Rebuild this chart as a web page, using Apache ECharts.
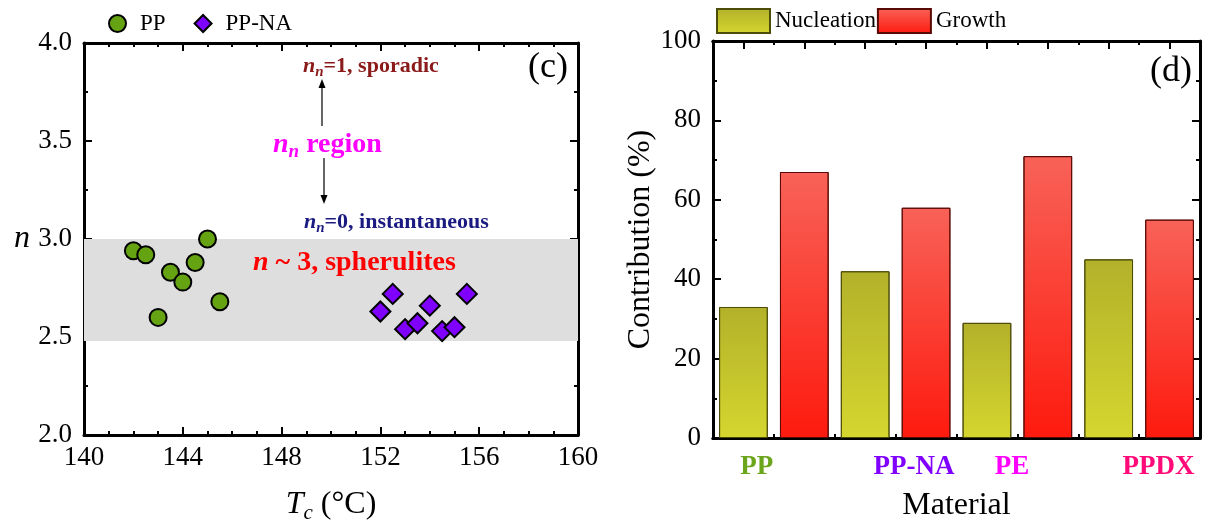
<!DOCTYPE html>
<html>
<head>
<meta charset="utf-8">
<script src="https://cdn.jsdelivr.net/npm/echarts@6/dist/echarts.min.js"></script>
<style>
  html, body { margin: 0; padding: 0; background: #fff; }
  #chart { width: 1206px; height: 529px; }
</style>
</head>
<body>
<div id="chart"></div>
<script>
// ---- (c) Avrami exponent n versus crystallization temperature ----
const tcPP   = [142, 142.5, 143, 143.5, 144, 144.5, 145, 145.5];
const nPP    = [2.94, 2.92, 2.60, 2.83, 2.78, 2.88, 3.00, 2.68];
const tcPPNA = [152, 152.5, 153, 153.5, 154, 154.5, 155, 155.5];
const nPPNA  = [2.63, 2.72, 2.54, 2.57, 2.66, 2.53, 2.55, 2.72];
const spheruliteBand = [2.48, 3.0];   // n range shaded as the spherulite region

// ---- (d) nucleation / growth contribution per material ----
const materials  = ['PP', 'PP-NA', 'PE', 'PPDX'];
const nucleation = [33, 42, 29, 45];
const growth     = [67, 58, 71, 55];
const materialColors = ['#6aa51c', '#8000ff', '#ff00ff', '#ff0a78'];
// where each material name sits along the bar axis (in bar-slot units)
const materialLabelSlots = [0.22, 2.8, 4.41, 6.82];

const SERIF = '"Liberation Serif", "Times New Roman", serif';

// each material occupies two bar slots: nucleation then growth
const slots = [];
materials.forEach(m => { slots.push(m + ' N'); slots.push(m + ' G'); });
const nucData = slots.map((_, i) => i % 2 === 0 ? nucleation[i / 2] : '-');
const groData = slots.map((_, i) => i % 2 === 1 ? growth[(i - 1) / 2] : '-');

// fresh style objects for every axis
const axisLine = () => ({ show: true, onZero: false, lineStyle: { color: '#000', width: 3 } });
const majorTick = (extra) => Object.assign({ show: true, inside: true, length: 8,
  lineStyle: { color: '#000', width: 2 } }, extra || {});
const minorTick = (n) => ({ show: true, splitNumber: n, length: 4, lineStyle: { color: '#000', width: 2 } });
const tickFont = (extra) => Object.assign({ show: true, color: '#000', fontFamily: SERIF, fontSize: 27 }, extra || {});

const chart = echarts.init(document.getElementById('chart'), null, { renderer: 'canvas' });

const subRich = (color, size, subSize, weight) => ({
  i: { fontFamily: SERIF, fontStyle: 'italic', fontWeight: weight, fontSize: size, color: color, fill: color },
  s: { fontFamily: SERIF, fontStyle: 'italic', fontWeight: weight, fontSize: subSize, color: color, fill: color,
       padding: [Math.round(size * 0.55), 0, 0, 0] },
  t: { fontFamily: SERIF, fontWeight: weight, fontSize: size, color: color, fill: color }
});

const valueAxis = (cfg) => Object.assign({
  type: 'value', axisLine: axisLine(), splitLine: { show: false }, axisLabel: { show: false }
}, cfg);
const catAxis = (cfg) => Object.assign({
  type: 'category', data: slots, axisLine: axisLine(), splitLine: { show: false }, axisLabel: { show: false }
}, cfg);

const option = {
  animation: false,
  backgroundColor: '#fff',
  grid: [
    { left: 84, top: 43, width: 494, height: 395 },
    { left: 713, top: 41, width: 487, height: 397 }
  ],
  legend: [
    {
      data: ['PP', 'PP-NA'], left: 103, top: 7,
      itemWidth: 17, itemHeight: 17, itemGap: 28,
      textStyle: { color: '#000', fontFamily: SERIF, fontSize: 23, padding: [0, 0, 0, 9] }
    },
    {
      data: [{ name: 'Nucleation', icon: 'rect' }, { name: 'Growth', icon: 'rect' }],
      left: 711, top: 3,
      itemWidth: 53, itemHeight: 24, itemGap: 1,
      textStyle: { color: '#000', fontFamily: SERIF, fontSize: 23 }
    }
  ],
  xAxis: [
    valueAxis({
      gridIndex: 0, min: 140, max: 160, interval: 4, position: 'bottom',
      axisTick: majorTick(), minorTick: minorTick(4),
      axisLabel: tickFont({ margin: 9 }),
      name: '{i|T}{s|c}{t| (°C)}', nameLocation: 'middle', nameGap: 50,
      nameTextStyle: { rich: subRich('#000', 32, 21, 'normal') }
    }),
    valueAxis({
      gridIndex: 0, min: 140, max: 160, interval: 4, position: 'top',
      axisTick: majorTick(), minorTick: minorTick(4)
    }),
    catAxis({
      gridIndex: 1, position: 'bottom',
      axisTick: majorTick({ alignWithLabel: true, interval: 0 }),
      name: 'Material', nameLocation: 'middle', nameGap: 52,
      nameTextStyle: { color: '#000', fontFamily: SERIF, fontSize: 32 }
    }),
    catAxis({
      gridIndex: 1, position: 'bottom',
      axisTick: majorTick({ interval: 0, length: 4 })
    }),
    catAxis({
      gridIndex: 1, position: 'top',
      axisTick: majorTick({ alignWithLabel: true, interval: 0 })
    }),
    catAxis({
      gridIndex: 1, position: 'top',
      axisTick: majorTick({ interval: 0, length: 4 })
    })
  ],
  yAxis: [
    valueAxis({
      gridIndex: 0, min: 2, max: 4, interval: 0.5, position: 'left',
      axisTick: majorTick(), minorTick: minorTick(2),
      axisLabel: tickFont({ margin: 12, formatter: v => v.toFixed(1) }),
      name: 'n', nameLocation: 'middle', nameGap: 54, nameRotate: 0,
      nameTextStyle: { color: '#000', fontFamily: SERIF, fontSize: 32, fontStyle: 'italic' }
    }),
    valueAxis({
      gridIndex: 0, min: 2, max: 4, interval: 0.5, position: 'right',
      axisTick: majorTick(), minorTick: minorTick(2)
    }),
    valueAxis({
      gridIndex: 1, min: 0, max: 100, interval: 20, position: 'left',
      axisTick: majorTick(), minorTick: minorTick(2),
      axisLabel: tickFont({ margin: 12 }),
      name: 'Contribution (%)', nameLocation: 'middle', nameGap: 52,
      nameTextStyle: { color: '#000', fontFamily: SERIF, fontSize: 32 }
    }),
    valueAxis({
      gridIndex: 1, min: 0, max: 100, interval: 20, position: 'right',
      axisTick: majorTick(), minorTick: minorTick(2)
    })
  ],
  series: [
    {
      name: 'PP', type: 'scatter', xAxisIndex: 0, yAxisIndex: 0,
      data: tcPP.map((t, i) => [t, nPP[i]]),
      symbol: 'circle', symbolSize: 17,
      itemStyle: { color: '#65a313', borderColor: '#000', borderWidth: 2, opacity: 1 },
      z: 5,
      markArea: {
        silent: true,
        itemStyle: { color: '#dedede' },
        data: [[{ xAxis: 140, yAxis: spheruliteBand[0] }, { xAxis: 160, yAxis: spheruliteBand[1] }]]
      }
    },
    {
      name: 'PP-NA', type: 'scatter', xAxisIndex: 0, yAxisIndex: 0,
      data: tcPPNA.map((t, i) => [t, nPPNA[i]]),
      symbol: 'diamond', symbolSize: 20,
      itemStyle: { color: '#8000ff', borderColor: '#000', borderWidth: 2, opacity: 1 },
      z: 5
    },
    {
      name: 'Nucleation', type: 'bar', xAxisIndex: 2, yAxisIndex: 2,
      data: nucData, barWidth: '80%', barGap: '-100%',
      itemStyle: {
        color: new echarts.graphic.LinearGradient(0, 0, 0, 1, [
          { offset: 0, color: '#b3b12a' }, { offset: 1, color: '#d5d62f' }
        ]),
        borderColor: '#4d4d0a', borderWidth: 1
      }
    },
    {
      name: 'Growth', type: 'bar', xAxisIndex: 2, yAxisIndex: 2,
      data: groData, barWidth: '80%', barGap: '-100%',
      itemStyle: {
        color: new echarts.graphic.LinearGradient(0, 0, 0, 1, [
          { offset: 0, color: '#f86258' }, { offset: 1, color: '#fe1a0e' }
        ]),
        borderColor: '#5a0a05', borderWidth: 1
      }
    }
  ]
};

chart.setOption(option);

// annotations for panel (c) and panel letters
const annot = [];
const txt = (x, y, text, rich) => annot.push({
  type: 'text', x: x, y: y, z: 100,
  style: { text: text, rich: rich, align: 'left', verticalAlign: 'middle' }
});
txt(303, 66, '{i|n}{s|n}{t|=1, sporadic}', subRich('#8b1a1a', 22, 15, 'bold'));
txt(273, 145, '{i|n}{s|n}{t| region}', subRich('#ff00ff', 28, 19, 'bold'));
txt(304, 222, '{i|n}{s|n}{t|=0, instantaneous}', subRich('#1a1a80', 22, 15, 'bold'));
txt(253, 263, '{i|n}{t| ~ 3, spherulites}', subRich('#ff0000', 28, 19, 'bold'));
txt(528, 68, '{t|(c)}', { t: { fontFamily: SERIF, fontSize: 36, fill: '#000' } });
txt(1150, 72, '{t|(d)}', { t: { fontFamily: SERIF, fontSize: 36, fill: '#000' } });

// arrows above and below the n_n region label
const arrow = (x, yFrom, yTo) => {
  const dir = yTo < yFrom ? -1 : 1;
  annot.push({ type: 'line', z: 100, shape: { x1: x, y1: yFrom, x2: x, y2: yTo - dir * 6 },
               style: { stroke: '#000', lineWidth: 1.2 } });
  annot.push({ type: 'polygon', z: 100,
               shape: { points: [[x, yTo], [x - 3.5, yTo - dir * 9], [x + 3.5, yTo - dir * 9]] },
               style: { fill: '#000' } });
};
arrow(322, 126, 79);
arrow(324, 158, 204);

// material names under the bar groups
const slotPx = (s) => {
  const a = Math.floor(s), f = s - a;
  const p0 = chart.convertToPixel({ xAxisIndex: 2 }, a);
  const p1 = chart.convertToPixel({ xAxisIndex: 2 }, Math.min(a + 1, slots.length - 1));
  return p0 + (p1 - p0) * f;
};
const baseY = chart.convertToPixel({ yAxisIndex: 2 }, 0);
materials.forEach((m, i) => {
  annot.push({
    type: 'text', z: 100, x: slotPx(materialLabelSlots[i]), y: baseY + 29,
    style: { text: m, fill: materialColors[i], font: 'bold 27px ' + SERIF,
             align: 'center', verticalAlign: 'middle' }
  });
});

chart.setOption({ graphic: { elements: annot } });
</script>
</body>
</html>
